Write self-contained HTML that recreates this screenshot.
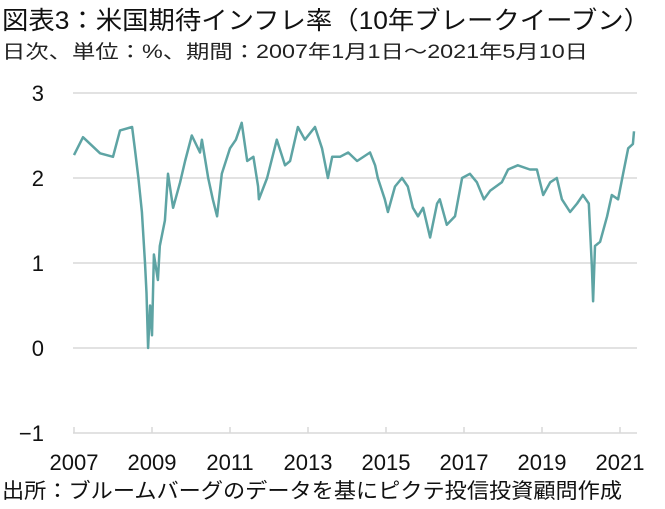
<!DOCTYPE html>
<html><head><meta charset="utf-8"><style>
body{margin:0;background:#fff;}
svg{display:block;font-family:"Liberation Sans","Noto Sans CJK JP",sans-serif;}
</style></head><body>
<svg id="chart" width="665" height="509">
<text x="2" y="29" font-size="25" fill="#111" textLength="648" lengthAdjust="spacingAndGlyphs">図表3：米国期待インフレ率（10年ブレークイーブン）</text>
<text x="2" y="58" font-size="19" fill="#222" textLength="586" lengthAdjust="spacingAndGlyphs">日次、単位：%、期間：2007年1月1日～2021年5月10日</text>
<g id="grid"></g><g id="yticks"></g><g id="xticks"></g><g id="series"></g>
<text x="2" y="498" font-size="21" fill="#111" textLength="620" lengthAdjust="spacingAndGlyphs">出所：ブルームバーグのデータを基にピクテ投信投資顧問作成</text>
</svg>
<script>
const yTicks=[3,2,1,0,-1];
const xTickYears=[2007,2009,2011,2013,2015,2017,2019,2021];
const dates=[2007.0,2007.23,2007.67,2008.0,2008.18,2008.49,2008.56,2008.65,2008.74,2008.82,2008.86,2008.9,2008.95,2009.0,2009.05,2009.15,2009.2,2009.33,2009.41,2009.54,2009.72,2009.85,2010.02,2010.23,2010.28,2010.44,2010.56,2010.67,2010.79,2011.0,2011.15,2011.3,2011.44,2011.6,2011.72,2011.74,2011.95,2012.2,2012.41,2012.54,2012.74,2012.92,2013.18,2013.36,2013.51,2013.62,2013.82,2014.03,2014.26,2014.59,2014.72,2014.79,2014.97,2015.05,2015.23,2015.41,2015.56,2015.69,2015.82,2015.95,2016.13,2016.31,2016.38,2016.56,2016.77,2016.95,2017.15,2017.33,2017.51,2017.67,2017.97,2018.13,2018.38,2018.69,2018.87,2019.03,2019.21,2019.38,2019.51,2019.72,2019.9,2020.05,2020.2,2020.28,2020.31,2020.36,2020.49,2020.67,2020.79,2020.95,2021.08,2021.21,2021.33,2021.36];
const values=[2.27,2.48,2.29,2.25,2.56,2.6,2.35,2.0,1.6,1.0,0.65,0.0,0.5,0.15,1.1,0.8,1.2,1.5,2.05,1.65,1.95,2.2,2.5,2.3,2.45,2.0,1.75,1.55,2.05,2.35,2.45,2.65,2.2,2.25,1.9,1.75,2.0,2.45,2.15,2.2,2.6,2.45,2.6,2.35,2.0,2.25,2.25,2.3,2.2,2.3,2.15,2.0,1.75,1.6,1.9,2.0,1.9,1.65,1.55,1.65,1.3,1.7,1.75,1.45,1.55,2.0,2.05,1.95,1.75,1.85,1.95,2.1,2.15,2.1,2.1,1.8,1.95,2.0,1.75,1.6,1.7,1.8,1.7,0.95,0.55,1.2,1.25,1.55,1.8,1.75,2.05,2.35,2.4,2.55];
const NS="http://www.w3.org/2000/svg";
const x=y=>74+(y-2007)*39;
const yS=v=>348-v*85;
const grid=document.getElementById('grid'),yt=document.getElementById('yticks'),xt=document.getElementById('xticks'),ser=document.getElementById('series');
function mk(tag,attrs,parent){const e=document.createElementNS(NS,tag);for(const k in attrs)e.setAttribute(k,attrs[k]);parent.appendChild(e);return e;}
yTicks.forEach(t=>{
  const l=mk('line',{x1:73,x2:637,y1:yS(t),y2:yS(t),stroke:'#d9d9d9','stroke-width':1.5},grid);
  
  
  const tx=mk('text',{x:44,y:yS(t)+8,'font-size':22,'text-anchor':'end',fill:'#111'},yt);
  tx.textContent=t<0?'−'+Math.abs(t):String(t);
  
  
});
xTickYears.forEach(yr=>{
  const tk=mk('line',{x1:x(yr),x2:x(yr),y1:yS(-1),y2:yS(-1)-6,stroke:'#d9d9d9','stroke-width':1.5},xt);
  
  
  const tx=mk('text',{x:x(yr),y:470,'font-size':22,'text-anchor':'middle',fill:'#111'},xt);
  tx.textContent=yr;
  
  
});
const d=dates.map((t,i)=>(i?'L':'M')+x(t).toFixed(1)+' '+yS(values[i]).toFixed(1)).join(' ');
const p=mk('path',{d:d,fill:'none',stroke:'#5ea4a4','stroke-width':2.5,'stroke-linejoin':'round'},ser);


</script>
</body></html>
